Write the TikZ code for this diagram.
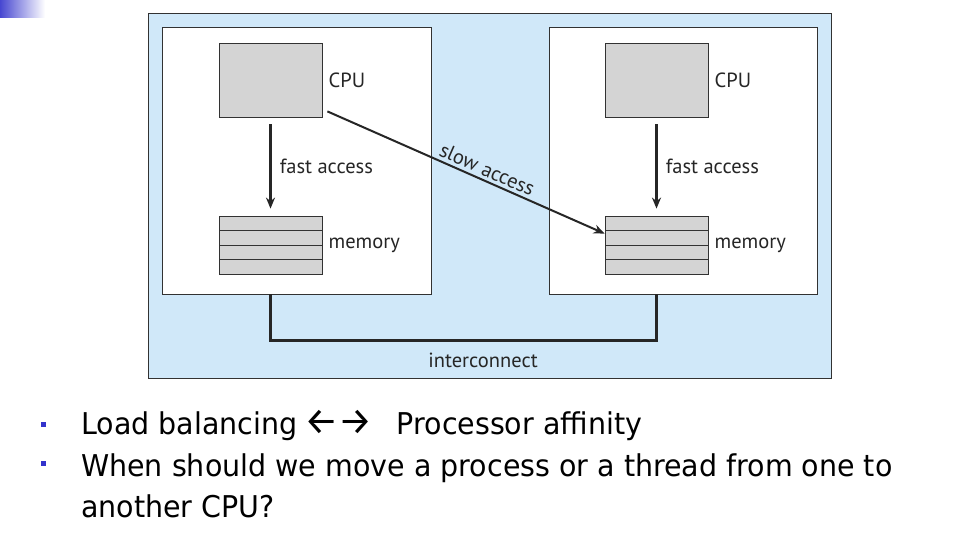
\documentclass[tikz,border=0pt]{standalone}
\usepackage{fontspec}
\setmainfont{PT Sans}
\newfontfamily\slidefont[FakeStretch=0.95]{DejaVu Sans}
\newfontfamily\arrowfont{Fira Sans}
\usetikzlibrary{arrows.meta,positioning,calc}
\definecolor{bgblue}{RGB}{208,232,249}
\definecolor{cpugray}{RGB}{212,212,212}
\definecolor{bulletblue}{RGB}{51,51,204}
\definecolor{edge}{RGB}{50,50,50}

\begin{document}
\begin{tikzpicture}[x=1pt, y=-1pt,
  host/.style={draw=edge, fill=white, line width=0.9pt, inner sep=0pt, minimum width=269pt, minimum height=267pt},
  cpu/.style={draw=edge, fill=cpugray, line width=0.8pt, inner sep=0pt, minimum width=103pt, minimum height=74pt},
  mem/.style={cpu, minimum height=58pt, path picture={
      \foreach \k in {1,2,3}
        \draw[edge, line width=0.8pt] ($(path picture bounding box.north west)!\k/4!(path picture bounding box.south west)$) -- ($(path picture bounding box.north east)!\k/4!(path picture bounding box.south east)$);}},
  lbl/.style={inner sep=0pt, text=black!85, font=\fontsize{20.5}{22}\selectfont},
  arr/.style={-{Stealth[length=11pt, width=9pt]}, line width=2.6pt, draw=black!85},
  bus/.style={line width=3pt, draw=black!85},
  dot/.style={fill=bulletblue, inner sep=0pt, minimum size=5pt},
  txt/.style={inner sep=0pt, anchor=base west, align=left, font=\slidefont\fontsize{30}{40.5}\selectfont}]
\useasboundingbox (0,0) rectangle (960,546);
% corner mark
\shade[left color=bulletblue!90, right color=white] (0,0) rectangle (45,17);
% shared board
\node[draw=edge, fill=bgblue, line width=0.9pt, inner sep=0pt, minimum width=683pt, minimum height=365pt] (board) at (489.5,195.5) {};
% left node
\node[host] (n1) at (296.5,160.5) {};
\node[cpu] (cpu1) at (270.5,80) {};
\node[mem] (mem1) at (270.5,245) {};
\node[lbl, right=6pt of cpu1] {CPU};
\node[lbl, right=6pt of mem1] {memory};
\draw[arr, shorten <=7pt, shorten >=7pt] (cpu1) -- node[lbl, right=8pt] {fast access} (mem1);
% right node
\node[host, minimum width=268pt] (n2) at (683,160.5) {};
\node[cpu] (cpu2) at (656.5,80) {};
\node[mem] (mem2) at (656.5,245) {};
\node[lbl, right=6pt of cpu2] {CPU};
\node[lbl, right=6pt of mem2] {memory};
\draw[arr, shorten <=7pt, shorten >=7pt] (cpu2) -- node[lbl, right=8pt] {fast access} (mem2);
% remote path
\draw[arr, line width=2pt] ($(cpu1.south east)+(5,-6)$) -- node[lbl, pos=0.56, sloped, above=3pt] {slow access} ($(mem2.north west)+(0,18)$);
% interconnect
\draw[bus] (n1.south -| mem1) -- ++(0,46) -| (n2.south -| mem2);
\node[lbl] (ic) at (483,360) {interconnect};
% slide text
\node[dot] (d1) at (43.5,424) {};
\node[dot] (d2) at (43.5,463) {};
\node[txt] (t1) at (81,434) {Load balancing\hspace{-2pt} {\arrowfont\fontsize{38}{38}\selectfont ←→}\hspace{24pt}Processor affinity};
\node[txt] (t2) at (81,517) {When should we move a process or a thread from one to\\another CPU?};
\end{tikzpicture}
\end{document}
